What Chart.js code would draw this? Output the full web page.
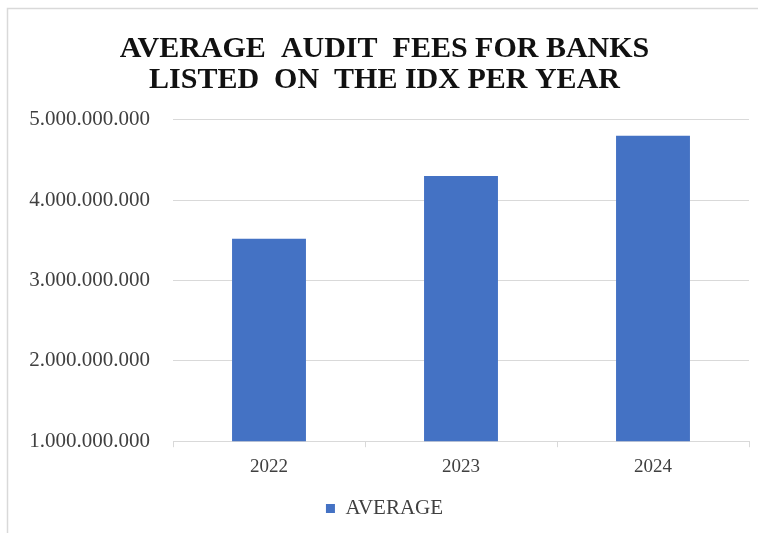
<!DOCTYPE html>
<html>
<head>
<meta charset="utf-8">
<script src="https://cdn.jsdelivr.net/npm/chart.js@4.4.0/dist/chart.umd.min.js"></script>
<style>
  body { margin: 0; background: #fff; }
  #wrap { width: 758px; height: 533px; position: relative; }
</style>
</head>
<body>
<div id="wrap"><canvas id="myChart" width="758" height="533"></canvas></div>
<script>
const years = ['2022', '2023', '2024']
const averageFees = [3520000000, 4300000000, 4800000000]
const titleLines = ['AVERAGE  AUDIT  FEES FOR BANKS', 'LISTED  ON  THE IDX PER YEAR']
const seriesName = 'AVERAGE'

const serif = 'Liberation Serif, Times New Roman, serif'

// thousands with dots, like 5.000.000.000
const formatDots = v => String(Math.round(v)).replace(/\B(?=(\d{3})+(?!\d))/g, '.')

// grey frame around the whole chart
const framePlugin = {
    id: 'frame',
    beforeDraw: chart => {
        const ctx = chart.ctx
        ctx.save()
        ctx.strokeStyle = '#d9d9d9'
        ctx.lineWidth = 1.5
        ctx.strokeRect(7.5, 8.5, chart.width + 5, chart.height + 5)
        ctx.restore()
    }
}

const data = {
    labels: years,
    datasets: [{
        label: seriesName,
        data: averageFees,
        backgroundColor: '#4472c4',
        borderWidth: 0,
        barPercentage: 0.385,
        categoryPercentage: 1
    }]
}

const options = {
    responsive: false,
    animation: false,
    layout: { padding: { left: 20, right: 9, top: 0, bottom: 4 } },
    plugins: {
        title: {
            display: true,
            text: titleLines,
            color: '#111',
            font: { family: serif, size: 30, weight: 'bold', lineHeight: 1.03 },
            padding: { top: 34, bottom: 24 }
        },
        legend: {
            display: true,
            position: 'bottom',
            labels: {
                color: '#404040',
                font: { family: serif, size: 21 },
                boxWidth: 9,
                boxHeight: 9,
                padding: 12
            }
        },
        tooltip: { enabled: false }
    },
    scales: {
        x: {
            grid: {
                drawOnChartArea: false,
                drawTicks: true,
                tickLength: 6,
                color: '#d9d9d9'
            },
            border: { color: '#d9d9d9' },
            ticks: {
                color: '#404040',
                font: { family: serif, size: 19 },
                padding: 8
            }
        },
        y: {
            min: 1000000000,
            max: 5000000000,
            afterFit: scale => { scale.width = 153 },
            grid: { color: '#d9d9d9', drawTicks: false },
            border: { display: false },
            ticks: {
                stepSize: 1000000000,
                color: '#404040',
                font: { family: serif, size: 21 },
                padding: 23,
                callback: v => formatDots(v)
            }
        }
    }
}

new Chart('myChart', { type: 'bar', data, options, plugins: [framePlugin] })
</script>
</body>
</html>
